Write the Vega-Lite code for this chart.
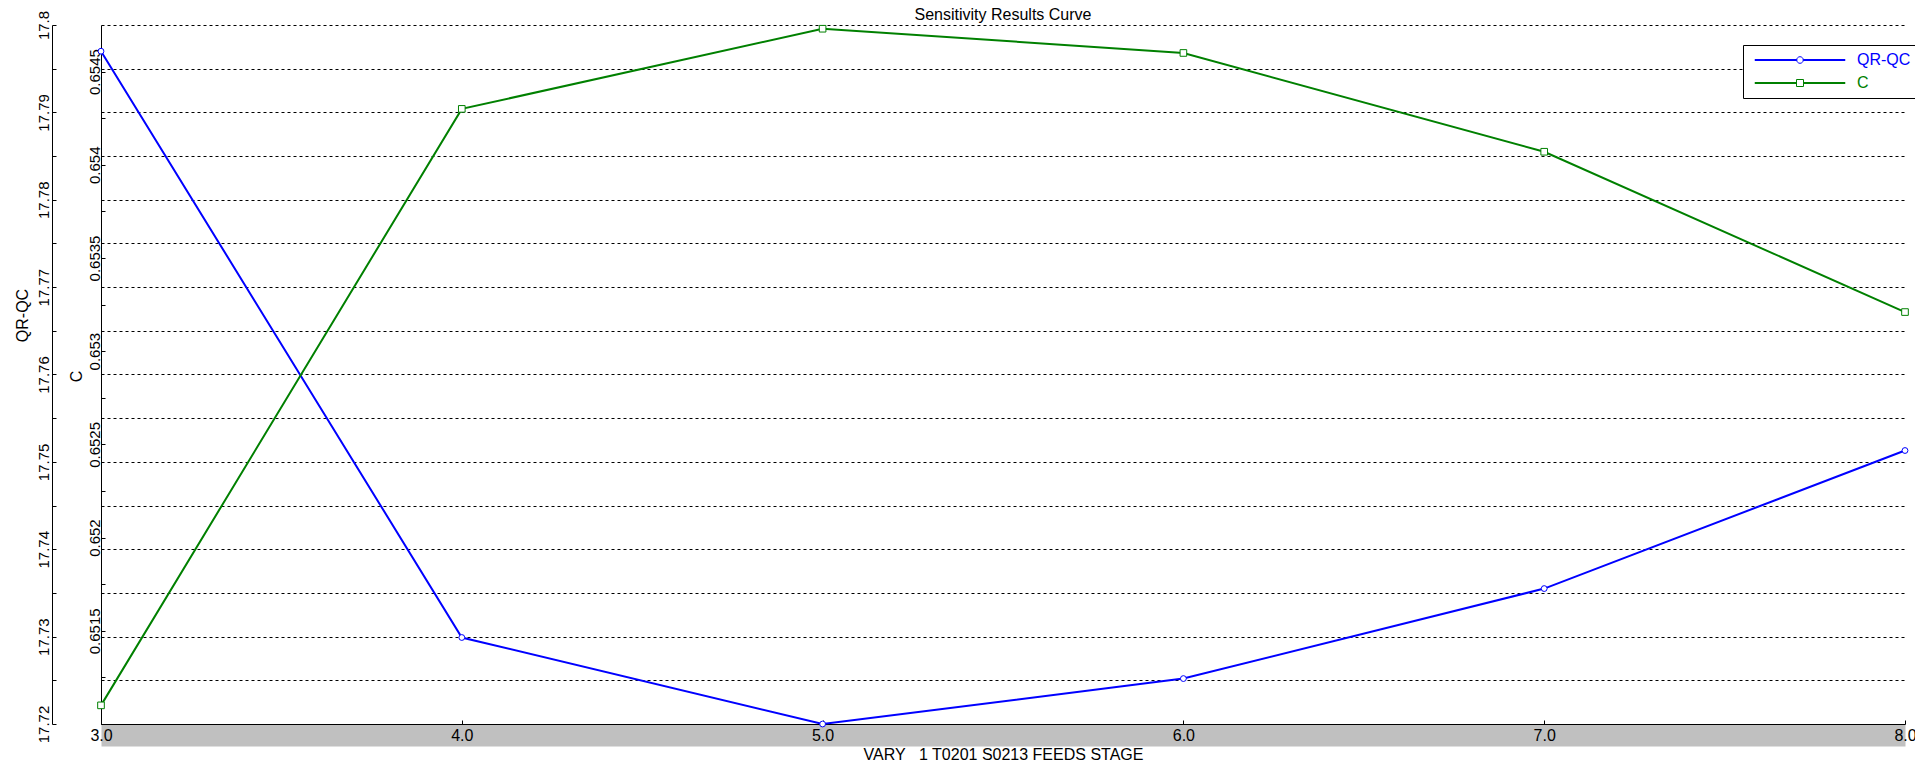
{
  "$schema": "https://vega.github.io/schema/vega-lite/v6.json",
  "width": 1804,
  "height": 699,
  "autosize": {"type": "none"},
  "padding": {"left": 101, "top": 25, "right": 10, "bottom": 45},
  "background": "white",
  "config": {
    "font": "Liberation Sans",
    "view": {"stroke": null},
    "axis": {"domainColor": "black", "tickColor": "black", "labelColor": "black", "titleColor": "black", "titleFontWeight": "normal"}
  },
  "title": {"text": "Sensitivity Results Curve", "fontSize": 16, "fontWeight": "normal", "color": "black", "offset": -13, "anchor": "middle", "frame": "group"},
  "datasets": {
    "curves": [
      {"series": "QR-QC", "x": 3, "value": 17.797},
      {"series": "QR-QC", "x": 4, "value": 17.7299},
      {"series": "QR-QC", "x": 5, "value": 17.72},
      {"series": "QR-QC", "x": 6, "value": 17.7252},
      {"series": "QR-QC", "x": 7, "value": 17.7355},
      {"series": "QR-QC", "x": 8, "value": 17.7513},
      {"series": "C", "x": 3, "value": 0.6511},
      {"series": "C", "x": 4, "value": 0.6543},
      {"series": "C", "x": 5, "value": 0.65473},
      {"series": "C", "x": 6, "value": 0.6546},
      {"series": "C", "x": 7, "value": 0.65407},
      {"series": "C", "x": 8, "value": 0.65321}
    ]
  },
  "data": {"name": "curves"},
  "layer": [
    {
      "transform": [{"filter": "datum.series === 'QR-QC'"}],
      "encoding": {
        "x": {
          "field": "x", "type": "quantitative",
          "scale": {"domain": [3, 8], "nice": false, "zero": false},
          "axis": {
            "orient": "bottom", "offset": 11, "values": [3, 4, 5, 6, 7, 8],
            "domainColor": "#c0c0c0", "domainWidth": 22, "domainCap": "butt",
            "ticks": false, "labels": false,
            "title": "VARY\u00a0\u00a0\u00a01 T0201 S0213 FEEDS STAGE", "titleFontSize": 16, "titleBaseline": "middle",
            "titleY": 19, "grid": false
          }
        },
        "y": {
          "field": "value", "type": "quantitative",
          "scale": {"domain": [17.72, 17.8], "nice": false, "zero": false},
          "axis": {
            "orient": "left", "offset": 49,
            "values": [17.72, 17.725, 17.73, 17.735, 17.74, 17.745, 17.75, 17.755, 17.76, 17.765, 17.77, 17.775, 17.78, 17.785, 17.79, 17.795, 17.8],
            "labelExpr": "abs(datum.value*100 - round(datum.value*100)) < 0.01 ? format(datum.value, '.2~f') : ''",
            "labelAngle": -90, "labelAlign": "center", "labelBaseline": "middle", "labelFontSize": 15,
            "labelPadding": 13, "tickSize": -4, "labelOverlap": false, "labelBound": false, "labelFlush": false,
            "grid": true, "gridDash": [3, 3], "gridColor": "black", "gridOpacity": 1, "gridWidth": 1,
            "title": "QR-QC", "titleFontSize": 16, "titleAngle": -90, "titleX": -30, "titleY": 290,
            "titleAlign": "center", "titleBaseline": "middle"
          }
        }
      },
      "layer": [
        {
          "mark": {"type": "line", "strokeWidth": 2},
          "encoding": {
            "color": {
              "field": "series", "type": "nominal",
              "scale": {"domain": ["QR-QC", "C"], "range": ["#0000ff", "#008000"]},
              "legend": {
                "orient": "none", "legendX": 1642, "legendY": 20, "title": null, "direction": "vertical",
                "padding": 7, "strokeColor": "black", "fillColor": "white", "cornerRadius": 0,
                "symbolSize": 4, "symbolOffset": 42, "labelOffset": 49, "labelFontSize": 16, "rowPadding": 7,
                "symbolStrokeWidth": 1, "symbolFillColor": "white",
                "encode": {
                  "symbols": {"update": {
                    "shape": {"signal": "datum.value === 'C' ? 'M-45,-0.5H-3.5V0.5H-45Z M3.5,-0.5H45V0.5H3.5Z M-3.5,-3.5H3.5V3.5H-3.5Z' : 'M-45,-0.5H-3.3V0.5H-45Z M3.3,-0.5H45V0.5H3.3Z M-3.3,0A3.3,3.3 0 1,0 3.3,0A3.3,3.3 0 1,0 -3.3,0Z'"},
                    "stroke": {"signal": "datum.value === 'C' ? '#008000' : '#0000ff'"},
                    "fill": {"value": "white"},
                    "strokeWidth": {"value": 1},
                    "opacity": {"value": 1}
                  }},
                  "labels": {"update": {"fill": {"signal": "datum.value === 'C' ? '#008000' : '#0000ff'"}}}
                }
              }
            }
          }
        },
        {
          "mark": {"type": "point", "shape": "circle", "filled": true, "fill": "white", "stroke": "#0000ff", "strokeWidth": 1, "size": 34, "opacity": 1}
        }
      ]
    },
    {
      "transform": [{"filter": "datum.series === 'C'"}],
      "encoding": {
        "x": {
          "field": "x", "type": "quantitative",
          "scale": {"domain": [3, 8], "nice": false, "zero": false},
          "axis": {
            "orient": "bottom", "offset": 0, "values": [3, 4, 5, 6, 7, 8], "format": ".1f", "title": null,
            "domainColor": "black", "domainWidth": 1, "ticks": true, "tickSize": -4, "grid": false,
            "labelFontSize": 16, "labelBaseline": "middle", "labelPadding": 15,
            "labelFlush": false, "labelOverlap": false, "labelBound": false
          }
        },
        "y": {
          "field": "value", "type": "quantitative",
          "scale": {"domain": [0.651, 0.65475], "nice": false, "zero": false},
          "axis": {
            "orient": "left", "offset": 0,
            "values": [0.651, 0.65125, 0.6515, 0.65175, 0.652, 0.65225, 0.6525, 0.65275, 0.653, 0.65325, 0.6535, 0.65375, 0.654, 0.65425, 0.6545],
            "labelExpr": "(abs(datum.value*2000 - round(datum.value*2000)) < 0.01 && datum.value > 0.6512) ? format(datum.value, '.5~f') : ''",
            "labelAngle": -90, "labelAlign": "center", "labelBaseline": "middle", "labelFontSize": 15,
            "labelPadding": 11, "tickSize": -4, "labelOverlap": false, "labelBound": false, "labelFlush": false,
            "grid": false,
            "title": "C", "titleFontSize": 16, "titleAngle": -90, "titleX": -25, "titleY": 351,
            "titleAlign": "center", "titleBaseline": "middle"
          }
        }
      },
      "layer": [
        {
          "mark": {"type": "line", "strokeWidth": 2},
          "encoding": {
            "color": {
              "field": "series", "type": "nominal",
              "scale": {"domain": ["QR-QC", "C"], "range": ["#0000ff", "#008000"]}
            }
          }
        },
        {
          "mark": {"type": "point", "shape": "square", "filled": true, "fill": "white", "stroke": "#008000", "strokeWidth": 1, "size": 44, "opacity": 1}
        }
      ]
    }
  ],
  "resolve": {"scale": {"y": "independent"}, "axis": {"y": "independent", "x": "independent"}}
}
